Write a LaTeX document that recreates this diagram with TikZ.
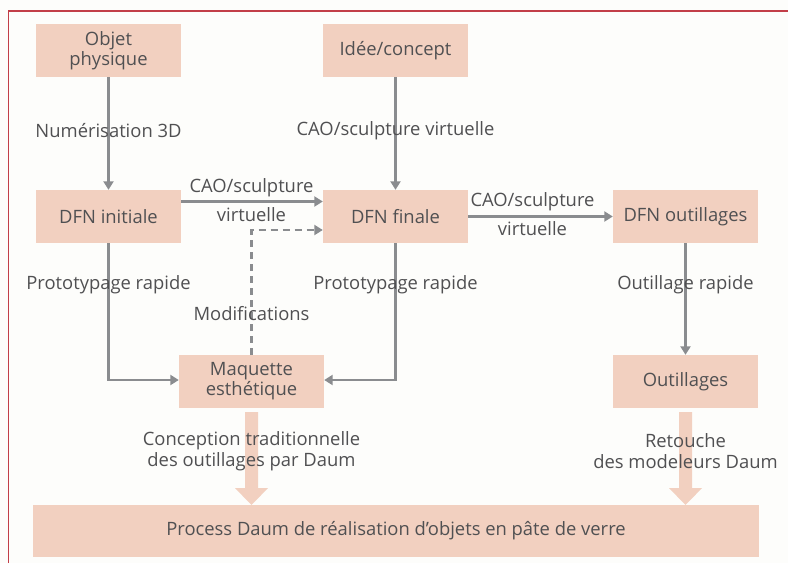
\documentclass[tikz,border=0pt]{standalone}
\usepackage{fontspec}
\setmainfont{Open Sans}
\usetikzlibrary{arrows.meta,calc}
\definecolor{boxc}{HTML}{F2D0C0}
\definecolor{arrc}{HTML}{8A8C8F}
\definecolor{txtc}{HTML}{505052}
\definecolor{framec}{HTML}{C23E48}
\definecolor{bgc}{HTML}{FDFDFB}
\tikzset{
  stepbox/.style={fill=boxc, minimum width=145pt, minimum height=53pt, inner sep=0pt, text=txtc, align=center, font=\fontsize{18.4}{20}\selectfont},
  lbl/.style={text=txtc, align=center, inner sep=0pt, font=\fontsize{18.4}{21.5}\selectfont},
  arr/.style={draw=arrc, line width=2.6pt, -{Triangle[length=8.5pt,width=10pt]}},
  dasharr/.style={arr, dash pattern=on 7pt off 5pt},
  bigarr/.style={fill=boxc, draw=none},
}
\begin{document}
\begin{tikzpicture}[x=1pt,y=-1pt]
\fill[bgc] (0,0) rectangle (788,563);
\useasboundingbox (0,0) rectangle (788,563);
\draw[framec, line width=1.1pt] (8.5,563) -- (8.5,11) -- (788,11);

\node[stepbox] (op) at (108.5,50.5) {Objet\\physique};
\node[stepbox] (ic) at (395.5,50.5) {Idée/concept};
\node[stepbox] (di) at (108.5,216.5) {DFN initiale};
\node[stepbox] (df) at (395.5,216.5) {DFN finale};
\node[stepbox] (do) at (685.5,216.5) {DFN outillages};
\node[stepbox] (m) at (251.5,381.5) {Maquette\\esthétique};
\node[stepbox] (ou) at (685.5,381.5) {Outillages};
\node[stepbox, minimum width=726pt, minimum height=52pt] (p) at (396,531) {Process Daum de réalisation d’objets en pâte de verre};

% big arrows
\fill[bigarr] ($(m.south)+(-6.5,4)$) -- ($(m.south)+(6.5,4)$) -- ($(m.south)+(6.5,80)$) -- ($(m.south)+(16.5,80)$) -- (m.south |- p.north) -- ($(m.south)+(-16.5,80)$) -- ($(m.south)+(-6.5,80)$) -- cycle;
\fill[bigarr] ($(ou.south)+(-6.5,4)$) -- ($(ou.south)+(6.5,4)$) -- ($(ou.south)+(6.5,80)$) -- ($(ou.south)+(16.5,80)$) -- (ou.south |- p.north) -- ($(ou.south)+(-16.5,80)$) -- ($(ou.south)+(-6.5,80)$) -- cycle;

% connectors
\draw[arr] (op) -- (di);
\draw[arr] (ic) -- (df);
\draw[arr] ([yshift=15pt]di.east) -- ([yshift=15pt]df.west);
\draw[arr] (df) -- (do);
\draw[dasharr] (m.north) |- ([yshift=-13.5pt]df.west);
\draw[arr] (di.south) |- ([yshift=1.5pt]m.west);
\draw[arr] (df.south) |- ([yshift=1.5pt]m.east);
\draw[arr] (do) -- (ou);

% labels
\node[lbl] (l1) at (108.5,131) {Numérisation 3D};
\node[lbl] (l2) at (395.5,131) {CAO/sculpture virtuelle};
\node[lbl] (l3a) at (251.5,188) {CAO/sculpture};
\node[lbl] (l3b) at (251.5,215) {virtuelle};
\node[lbl] (l4a) at (532.5,202) {CAO/sculpture};
\node[lbl] (l4b) at (532.5,229) {virtuelle};
\node[lbl] (l5) at (108.5,285) {Prototypage rapide};
\node[lbl] (l6) at (395.5,285) {Prototypage rapide};
\node[lbl] (l7) at (685.5,285) {Outillage rapide};
\node[lbl] (l8) at (251.5,314) {Modifications};
\node[lbl] (l9) at (251.5,451) {Conception traditionnelle\\des outillages par Daum};
\node[lbl] (l10) at (685.5,451) {Retouche\\des modeleurs Daum};
\end{tikzpicture}
\end{document}
